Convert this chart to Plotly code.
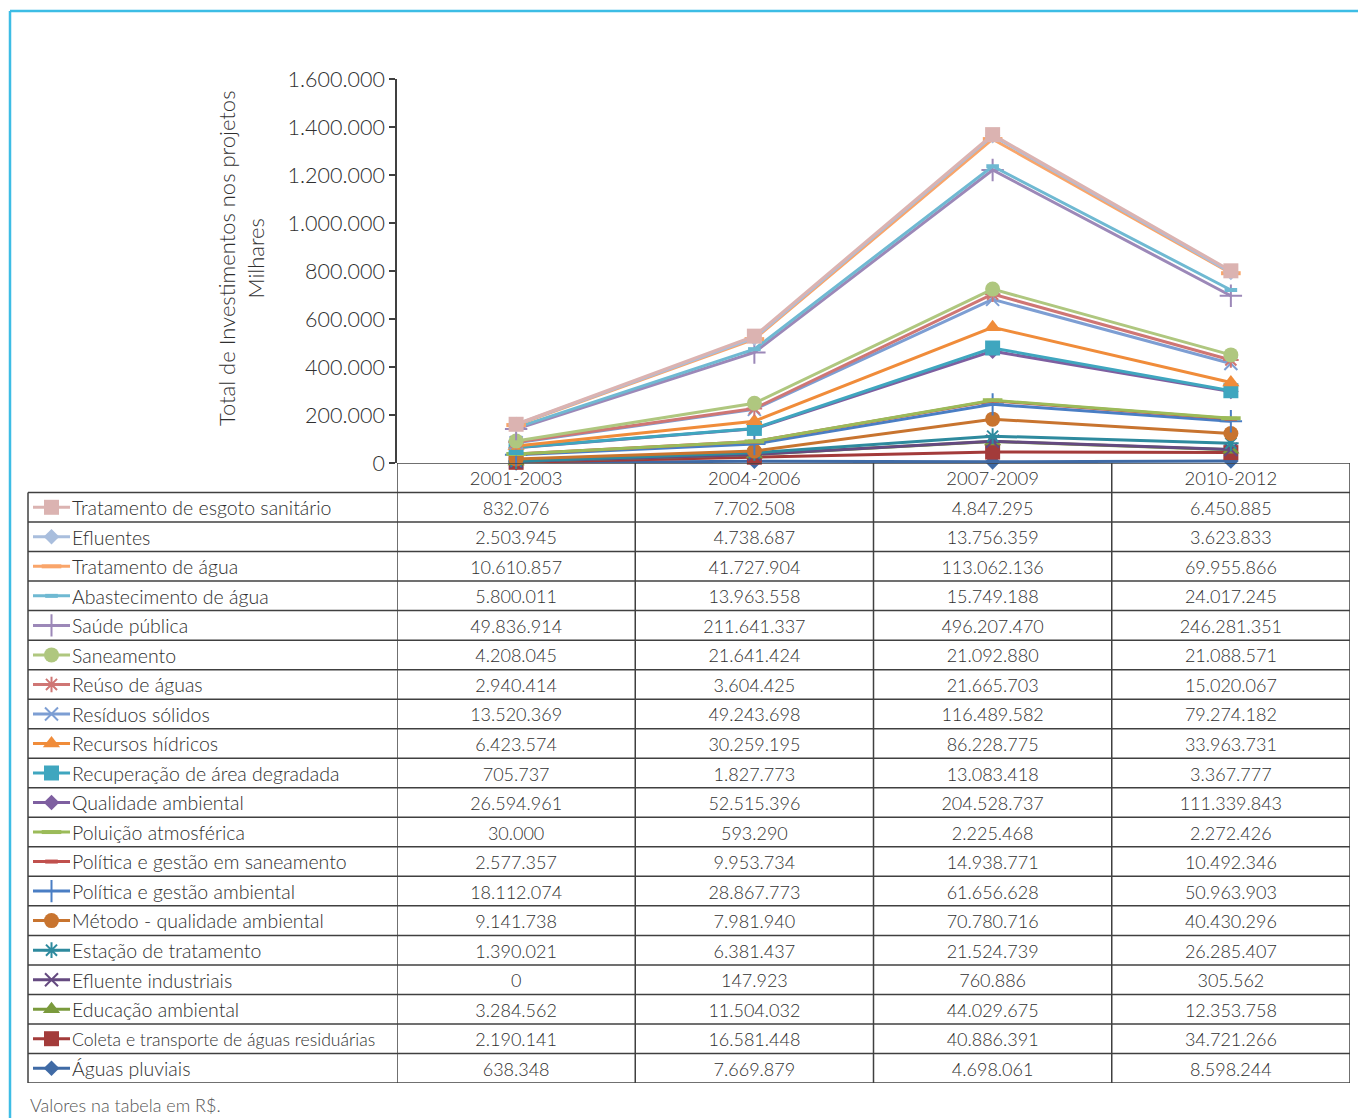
import plotly.graph_objects as go

# ---------------- data ----------------
periods = ["2001-2003", "2004-2006", "2007-2009", "2010-2012"]

series_names = [
    "Tratamento de esgoto sanitário",
    "Efluentes",
    "Tratamento de água",
    "Abastecimento de água",
    "Saúde pública",
    "Saneamento",
    "Reúso de águas",
    "Resíduos sólidos",
    "Recursos hídricos",
    "Recuperação de área degradada",
    "Qualidade ambiental",
    "Poluição atmosférica",
    "Política e gestão em saneamento",
    "Política e gestão ambiental",
    "Método - qualidade ambiental",
    "Estação de tratamento",
    "Efluente industriais",
    "Educação ambiental",
    "Coleta e transporte de águas residuárias",
    "Águas pluviais",
]

v_2001_2003 = [832076, 2503945, 10610857, 5800011, 49836914, 4208045, 2940414,
               13520369, 6423574, 705737, 26594961, 30000, 2577357, 18112074,
               9141738, 1390021, 0, 3284562, 2190141, 638348]
v_2004_2006 = [7702508, 4738687, 41727904, 13963558, 211641337, 21641424, 3604425,
               49243698, 30259195, 1827773, 52515396, 593290, 9953734, 28867773,
               7981940, 6381437, 147923, 11504032, 16581448, 7669879]
v_2007_2009 = [4847295, 13756359, 113062136, 15749188, 496207470, 21092880, 21665703,
               116489582, 86228775, 13083418, 204528737, 2225468, 14938771, 61656628,
               70780716, 21524739, 760886, 44029675, 40886391, 4698061]
v_2010_2012 = [6450885, 3623833, 69955866, 24017245, 246281351, 21088571, 15020067,
               79274182, 33963731, 3367777, 111339843, 2272426, 10492346, 50963903,
               40430296, 26285407, 305562, 12353758, 34721266, 8598244]

y_tick_values = [0, 200000, 400000, 600000, 800000, 1000000, 1200000, 1400000, 1600000]

# ---------------- styles ----------------
colors = [
    "#DBB3B1", "#A9BEDD", "#F9A56A", "#6FB9D2", "#9C88B8",
    "#AFC77F", "#CF7674", "#7D9ED3", "#F08C3A", "#3FA6BF",
    "#7E5FA0", "#9BBB59", "#C0504D", "#4A7EC4", "#C8742F",
    "#2E8A9E", "#654A80", "#7A9A3C", "#A33B3A", "#3F6AA5",
]
symbols = [
    "square", "diamond", "line-ew-open", "line-ew-open", "cross-thin-open",
    "circle", "asterisk-open", "x-thin-open", "triangle-up", "square",
    "diamond", "line-ew-open", "line-ew-open", "cross-thin-open", "circle",
    "asterisk-open", "x-thin-open", "triangle-up", "square", "diamond",
]
sizes = [15, 12, 14, 9, 16, 15, 13, 13, 15, 15, 12, 14, 9, 16, 15, 13, 13, 15, 15, 12]

W, H = 1358, 1118
def px(x):
    return x / W
def py(y):
    return 1 - y / H

FONT = "Lato"
TXT = "#2f2f2f"
GRID = "#404040"

fig = go.Figure()

period_values = [v_2001_2003, v_2004_2006, v_2007_2009, v_2010_2012]

def mline(i):
    if symbols[i].endswith("open"):
        return dict(color=colors[i], width=4 if symbols[i] == "line-ew-open" else 2)
    return dict(color=colors[i], width=0)

# stacked lines (bottom series first)
for i in reversed(range(len(series_names))):
    vals = [pv[i] / 1000 for pv in period_values]
    fig.add_trace(go.Scatter(
        x=periods, y=vals, name=series_names[i],
        stackgroup="one", fill="none", mode="lines+markers",
        line=dict(color=colors[i], width=3),
        marker=dict(symbol=symbols[i], size=sizes[i], color=colors[i], line=mline(i)),
        cliponaxis=False, showlegend=False,
    ))

# ---------------- table ----------------
header_key = "__header__"
row_keys = [header_key] + series_names

fig.add_trace(go.Scatter(
    x=periods, y=[header_key] * len(periods), xaxis="x", yaxis="y3",
    mode="text", text=periods, textposition="middle center",
    textfont=dict(family=FONT, size=18.5, color=TXT, weight=300),
    showlegend=False, hoverinfo="skip", cliponaxis=False,
))

def fmt(v):
    return f"{v:,}".replace(",", ".")

for j, p in enumerate(periods):
    fig.add_trace(go.Scatter(
        x=[p] * len(series_names), y=series_names, xaxis="x", yaxis="y3",
        mode="text", text=[fmt(v) for v in period_values[j]],
        textposition="middle center",
        textfont=dict(family=FONT, size=18, color=TXT, weight=300),
        showlegend=False, hoverinfo="skip", cliponaxis=False,
    ))

for i, name in enumerate(series_names):
    fig.add_trace(go.Scatter(
        x=[33, 70], y=[name, name], xaxis="x2", yaxis="y2", mode="lines",
        line=dict(color=colors[i], width=3), showlegend=False, hoverinfo="skip",
        cliponaxis=False,
    ))
    fig.add_trace(go.Scatter(
        x=[51.5], y=[name], xaxis="x2", yaxis="y2", mode="markers",
        marker=dict(symbol=symbols[i], size=sizes[i], color=colors[i], line=mline(i)),
        showlegend=False, hoverinfo="skip", cliponaxis=False,
    ))

label_sizes = [17.6 if len(nm) > 34 else 19.5 for nm in series_names]
fig.add_trace(go.Scatter(
    x=[72] * len(series_names), y=series_names, xaxis="x2", yaxis="y3",
    mode="text", text=series_names, textposition="middle right",
    textfont=dict(family=FONT, size=label_sizes, color=TXT, weight=300),
    showlegend=False, hoverinfo="skip", cliponaxis=False,
))

shapes = []
n = len(row_keys)
shapes.append(dict(type="line", xref="x", yref="y2", x0=-0.5, x1=len(periods) - 0.5,
                   y0=-0.5, y1=-0.5, line=dict(color=GRID, width=1.5)))
for k in range(n):
    shapes.append(dict(type="line", xref="paper", yref="y2", x0=px(28), x1=px(1350),
                       y0=k + 0.5, y1=k + 0.5, line=dict(color=GRID, width=1.5)))
for j in range(len(periods) + 1):
    shapes.append(dict(type="line", xref="x", yref="y2", x0=j - 0.5, x1=j - 0.5,
                       y0=-0.5, y1=n - 0.5, line=dict(color=GRID, width=1.5)))
shapes.append(dict(type="line", xref="paper", yref="y2", x0=px(28), x1=px(28),
                   y0=0.5, y1=n - 0.5, line=dict(color=GRID, width=1.5)))
shapes.append(dict(type="line", xref="paper", yref="paper", x0=px(10), x1=1,
                   y0=py(11), y1=py(11), line=dict(color="#3DBDE5", width=2.5)))
shapes.append(dict(type="line", xref="paper", yref="paper", x0=px(10), x1=px(10),
                   y0=py(11), y1=0, line=dict(color="#3DBDE5", width=2.5)))

annotations = [
    dict(text="Total de Investimentos nos projetos<br>Milhares", textangle=-90,
         xref="paper", yref="paper", x=px(241), y=py(258), showarrow=False,
         xanchor="center", yanchor="middle",
         font=dict(family=FONT, size=22, color=TXT, weight=300)),
    dict(text="Valores na tabela em R$.", xref="paper", yref="paper",
         x=px(28), y=py(1105), xanchor="left", yanchor="middle", showarrow=False,
         font=dict(family=FONT, size=18, color="#555555", weight=300)),
]

fig.update_layout(
    width=W, height=H,
    margin=dict(l=0, r=0, t=0, b=0, pad=0, autoexpand=False),
    paper_bgcolor="white", plot_bgcolor="rgba(0,0,0,0)",
    separators=",.",
    font=dict(family=FONT, color=TXT),
    showlegend=False,
    shapes=shapes,
    annotations=annotations,
    xaxis=dict(domain=[px(397), px(1350)], type="category", categoryorder="array",
               categoryarray=periods, range=[-0.5, len(periods) - 0.5],
               showticklabels=False, showgrid=False, showline=False, zeroline=False,
               ticks="", anchor="y", automargin=False),
    yaxis=dict(domain=[py(463), py(79)], range=[0, 1600000], tickvals=y_tick_values,
               tickformat=",d", showgrid=False, zeroline=False, showline=True,
               linecolor=GRID, linewidth=1.5, ticks="outside", ticklen=6,
               tickcolor=GRID, tickwidth=1.5, anchor="x", automargin=False,
               tickfont=dict(family=FONT, size=21.5, color=TXT, weight=300)),
    xaxis2=dict(domain=[px(28), px(397)], range=[28, 397], visible=False, anchor="y2",
                automargin=False),
    yaxis2=dict(domain=[py(1083), py(463)], type="category", categoryorder="array",
                categoryarray=row_keys, range=[n - 0.5, -0.5], visible=False, anchor="x2",
                automargin=False),
    yaxis3=dict(domain=[py(1086), py(466)], type="category", categoryorder="array",
                categoryarray=row_keys, range=[n - 0.5, -0.5], visible=False, anchor="x2",
                automargin=False),
)

fig.write_html("out.html", config={"displayModeBar": False},
               post_script="document.body.style.margin='0';document.body.style.overflow='hidden';")
